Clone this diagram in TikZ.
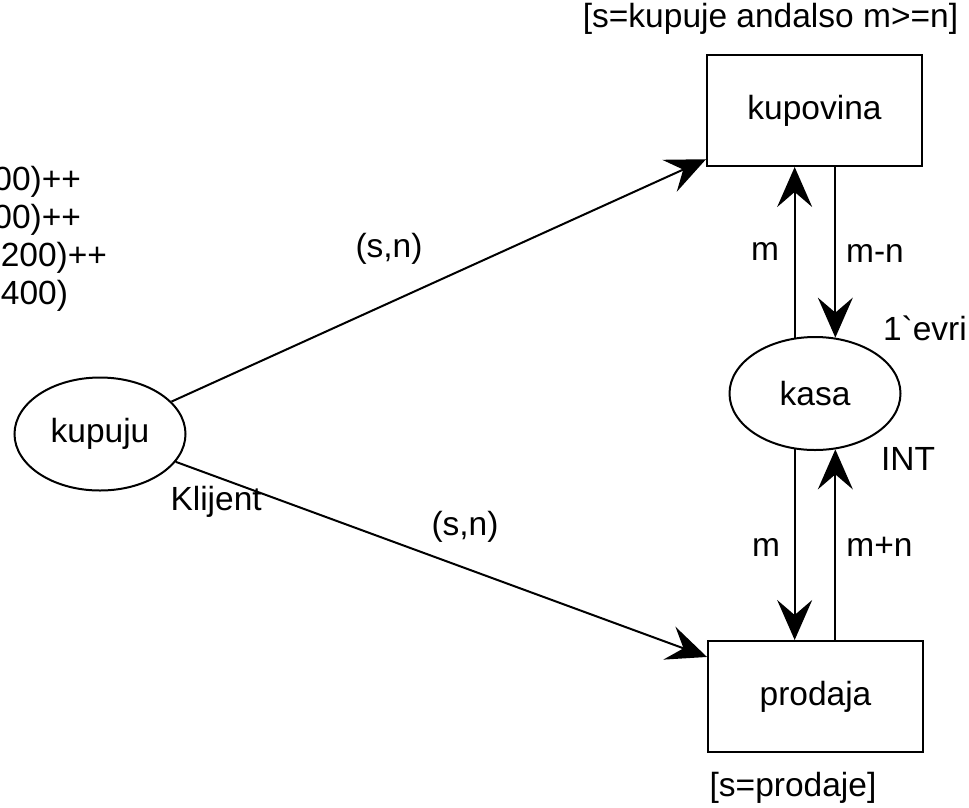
\documentclass[tikz,border=0pt]{standalone}
\usepackage{fontspec}
\setmainfont{Liberation Sans}[Ligatures=TeXOff]
\usetikzlibrary{arrows.meta,shapes.geometric,positioning}

\begin{document}
\begin{tikzpicture}[x=1pt,y=-1pt,->,>={Stealth[length=40pt,width=35pt,inset=15pt]},line width=2pt,font=\fontsize{33.5}{38}\selectfont]
	\tikzstyle{place}=[draw, ellipse, minimum width=171pt, minimum height=113pt, inner sep=0pt]
	\tikzstyle{trans}=[draw, rectangle, minimum width=215pt, minimum height=111pt, inner sep=0pt]
	\tikzstyle{lbl}=[inner sep=0pt, text height=24pt, text depth=7pt]
	\clip (0,0) rectangle (969,807);

	\node[place] 	(kupuju) 	at (100,434) 	{kupuju};
	\node[place] 	(kasa) 		at (815,393.5) 	{kasa};
	\node[trans] 	(kupovina) 	at (814.5,110.5) 	{kupovina};
	\node[trans] 	(prodaja) 	at (815.5,696.5) 	{prodaja};

	% guards and inscriptions
	\node[lbl] 	(guardK) 	at (770.5,18.5) 	{[s=kupuje andalso m>=n]};
	\node[lbl] 	(guardP) 	at (793,787.5) 	{[s=prodaje]};
	\node[lbl, anchor=west] 	(init) 	at (882,331.5) 	{1`evri};
	\node[lbl, anchor=west] 	(tipK) 	at (880,461.5) 	{INT};
	\node[lbl, anchor=west] 	(tipC) 	at (169.5,501.5) 	{Klijent};
	\node[lbl, anchor=east] 	(mark1) 	at (82,181.5) 	{00)++};
	\node[lbl, anchor=east] 	(mark2) 	at (82,219.5) 	{00)++};
	\node[lbl, anchor=east] 	(mark3) 	at (108,257.5) 	{200)++};
	\node[lbl, anchor=east] 	(mark4) 	at (69,295.5) 	{400)};

	\node[lbl] 	(snUp) 	at (389,249) 	{(s,n)};
	\node[lbl] 	(snDown) 	at (465,527) 	{(s,n)};
	\node[lbl] 	(mUp) 	at (765,252) 	{m};
	\node[lbl] 	(mnUp) 	at (875,254) 	{m-n};
	\node[lbl] 	(mDown) 	at (766,547.5) 	{m};
	\node[lbl] 	(mnDown) 	at (879.5,547.5) 	{m+n};

	\path
		(kupuju) edge (kupovina)
		(kupuju) edge (prodaja)
		(kasa.110) edge (kasa.110 |- kupovina.south)
		(kupovina.south -| kasa.70) edge (kasa.70)
		(kasa.250) edge (kasa.250 |- prodaja.north)
		(prodaja.north -| kasa.290) edge (kasa.290);
\end{tikzpicture}
\end{document}
